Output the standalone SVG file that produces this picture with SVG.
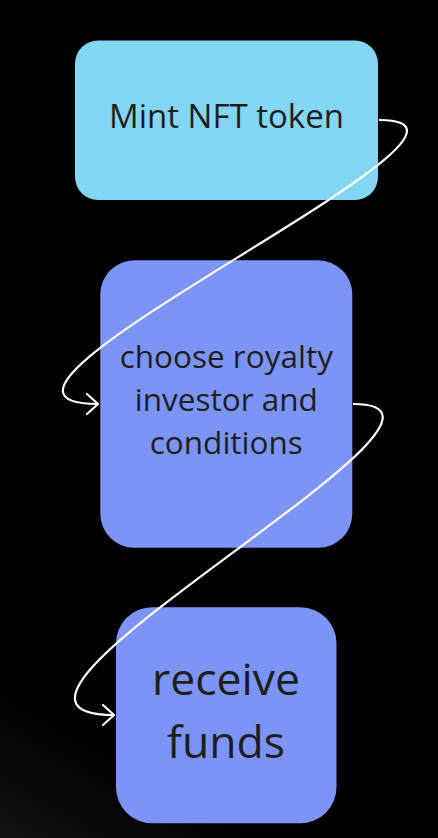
<svg xmlns="http://www.w3.org/2000/svg" width="438" height="838" viewBox="0 0 438 838">
<defs>
<linearGradient id="bg" x1="0.3" y1="0" x2="0" y2="1">
<stop offset="0" stop-color="#000"/>
<stop offset="0.84" stop-color="#000"/>
<stop offset="1" stop-color="#121212"/>
</linearGradient>
<marker id="arr" markerUnits="userSpaceOnUse" markerWidth="30" markerHeight="30" viewBox="-15 -15 30 30" refX="0" refY="0" orient="auto">
<path d="M-11,-10 L0,0 L-11,10" fill="none" stroke="#fff" stroke-width="2.2" stroke-linecap="round" stroke-linejoin="round"/>
</marker>
<style>
.t{font-family:"Open Sans","Noto Sans",sans-serif;fill:#1e1e1e;text-anchor:middle}
.c{fill:none;stroke:#fff;stroke-width:2.2;marker-end:url(#arr)}
</style>
</defs>
<rect width="438" height="838" fill="url(#bg)"/>
<g id="node-mint">
<rect x="75" y="40.5" width="303" height="159.5" rx="23" fill="#84d6f5"/>
<text class="t" x="226.5" y="128" font-size="33">Mint NFT token</text>
</g>
<g id="node-choose">
<rect x="100.3" y="260.3" width="252" height="287.5" rx="34" fill="#7c94f6"/>
<text class="t" font-size="31.5"><tspan x="226.3" y="368">choose royalty</tspan><tspan x="226.3" y="411">investor and</tspan><tspan x="226.3" y="454">conditions</tspan></text>
</g>
<g id="node-receive">
<rect x="116" y="607.3" width="220.5" height="216" rx="36" fill="#7c94f6"/>
<text class="t" font-size="44.5"><tspan x="226" y="695">receive</tspan><tspan x="226" y="758">funds</tspan></text>
</g>
<g id="connectors">
<path class="c" d="M379,120 C545,120 -90,404 98,404"/>
<path class="c" d="M353,404 C520,404 -80,715 114,715"/>
</g>
</svg>
